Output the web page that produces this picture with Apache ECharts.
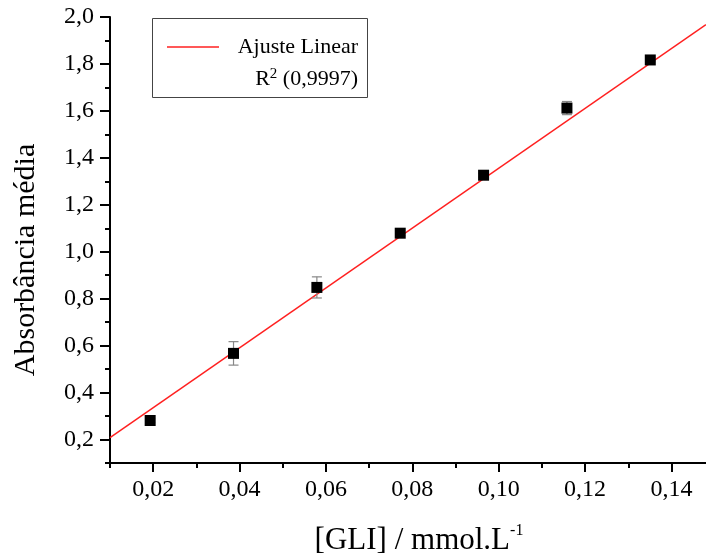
<!DOCTYPE html>
<html>
<head>
<meta charset="utf-8">
<script src="https://cdn.jsdelivr.net/npm/echarts@6/dist/echarts.min.js"></script>
<style>
  html, body { margin: 0; padding: 0; background: #fff; }
  #chart { width: 706px; height: 558px; }
</style>
</head>
<body>
<div id="chart"></div>
<script>
// dados
var conc = [0.0193, 0.0386, 0.0579, 0.0772, 0.0965, 0.1158, 0.1351];
var absorb = [0.281, 0.567, 0.848, 1.079, 1.326, 1.612, 1.817];
var desvio = [0.008, 0.05, 0.045, 0.01, 0.008, 0.028, 0.008];
// extremos da reta de ajuste
var ajusteX = [0.01, 0.148];
var ajusteY = [0.208, 1.968];
var xTicks = [0.02, 0.04, 0.06, 0.08, 0.10, 0.12, 0.14];
var xMinor = [0.01, 0.03, 0.05, 0.07, 0.09, 0.11, 0.13];
var yTicks = [0.2, 0.4, 0.6, 0.8, 1.0, 1.2, 1.4, 1.6, 1.8, 2.0];
var yMinor = [0.1, 0.3, 0.5, 0.7, 0.9, 1.1, 1.3, 1.5, 1.7, 1.9];

var font = 'Liberation Serif';
var pontos = conc.map(function (x, i) { return [x, absorb[i]]; });
var barras = conc.map(function (x, i) { return [x, absorb[i] - desvio[i], absorb[i] + desvio[i]]; });
var reta = ajusteX.map(function (x, i) { return [x, ajusteY[i]]; });

var myChart = echarts.init(document.getElementById('chart'));

var eixoX = {
    type: 'value', min: 0.01, max: 0.148, position: 'bottom',
    splitLine: { show: false },
    axisLine: { onZero: false, lineStyle: { color: '#000', width: 2 } }
};
var eixoY = {
    type: 'value', min: 0.1, max: 2.0, position: 'left',
    splitLine: { show: false },
    axisLine: { onZero: false, lineStyle: { color: '#000', width: 2 } }
};

var option = {
    animation: false,
    grid: { left: 110, right: 0, top: 17, bottom: 95, outerBoundsMode: 'none' },
    xAxis: [
        echarts.util.merge({
            axisTick: { customValues: xTicks, length: 9, lineStyle: { color: '#000', width: 2 } },
            axisLabel: {
                customValues: xTicks, margin: 15,
                fontFamily: font, fontSize: 24, color: '#000',
                formatter: function (v) { return v.toFixed(2).replace('.', ','); }
            }
        }, eixoX, true),
        echarts.util.merge({
            axisLine: { show: false },
            axisTick: { customValues: xMinor, length: 5, lineStyle: { color: '#000', width: 2 } },
            axisLabel: { show: false }
        }, echarts.util.clone(eixoX), false)
    ],
    yAxis: [
        echarts.util.merge({
            axisTick: { customValues: yTicks, length: 10, lineStyle: { color: '#000', width: 2 } },
            axisLabel: {
                customValues: yTicks, margin: 16,
                fontFamily: font, fontSize: 24, color: '#000',
                formatter: function (v) { return v.toFixed(1).replace('.', ','); }
            }
        }, eixoY, true),
        echarts.util.merge({
            axisLine: { show: false },
            axisTick: { customValues: yMinor, length: 5, lineStyle: { color: '#000', width: 2 } },
            axisLabel: { show: false }
        }, echarts.util.clone(eixoY), false)
    ],
    series: [
        {
            type: 'line', data: reta, symbol: 'none',
            lineStyle: { color: '#ff2020', width: 1.5 }, z: 2
        },
        {
            type: 'custom', data: barras, z: 3,
            renderItem: function (params, api) {
                var x = api.value(0);
                var lo = api.coord([x, api.value(1)]);
                var hi = api.coord([x, api.value(2)]);
                var c = 5;
                var st = { stroke: '#888', lineWidth: 1.2 };
                return {
                    type: 'group',
                    children: [
                        { type: 'line', shape: { x1: lo[0], y1: lo[1], x2: hi[0], y2: hi[1] }, style: st },
                        { type: 'line', shape: { x1: lo[0] - c, y1: lo[1], x2: lo[0] + c, y2: lo[1] }, style: st },
                        { type: 'line', shape: { x1: hi[0] - c, y1: hi[1], x2: hi[0] + c, y2: hi[1] }, style: st }
                    ]
                };
            }
        },
        {
            type: 'scatter', data: pontos, symbol: 'rect', symbolSize: 11,
            itemStyle: { color: '#000', opacity: 1 }, z: 4
        }
    ],
    graphic: [
        // títulos dos eixos
        { type: 'text', x: 26, y: 260, rotation: Math.PI / 2,
          style: { text: 'Absorbância média', fontFamily: font, fontSize: 30, fill: '#000', align: 'center', verticalAlign: 'middle' } },
        { type: 'text', x: 419, y: 541,
          style: {
              text: '{a|[GLI] / mmol.L}{s|-1}', align: 'center', verticalAlign: 'middle',
              rich: {
                  a: { fontFamily: font, fontSize: 31, fill: '#000' },
                  s: { fontFamily: font, fontSize: 16, fill: '#000', verticalAlign: 'top', padding: [0, 0, 20, 0] }
              }
          } },
        // legenda
        { type: 'rect', shape: { x: 152.5, y: 18.5, width: 215, height: 79 },
          style: { fill: '#fff', stroke: '#444', lineWidth: 1 }, z: 10 },
        { type: 'line', shape: { x1: 167, y1: 47, x2: 219, y2: 47 },
          style: { stroke: '#ff2020', lineWidth: 1.5 }, z: 11 },
        { type: 'text', x: 358, y: 47, z: 11,
          style: { text: 'Ajuste Linear', fontFamily: font, fontSize: 22, fill: '#000', align: 'right', verticalAlign: 'middle' } },
        { type: 'text', x: 358, y: 79, z: 11,
          style: {
              text: '{a|R}{s|2}{a| (0,9997)}', align: 'right', verticalAlign: 'middle',
              rich: {
                  a: { fontFamily: font, fontSize: 22, fill: '#000' },
                  s: { fontFamily: font, fontSize: 15, fill: '#000', verticalAlign: 'top', padding: [0, 0, 10, 0] }
              }
          } }
    ]
};
myChart.setOption(option);

window.onresize = function () { myChart.resize(); };
</script>
</body>
</html>
